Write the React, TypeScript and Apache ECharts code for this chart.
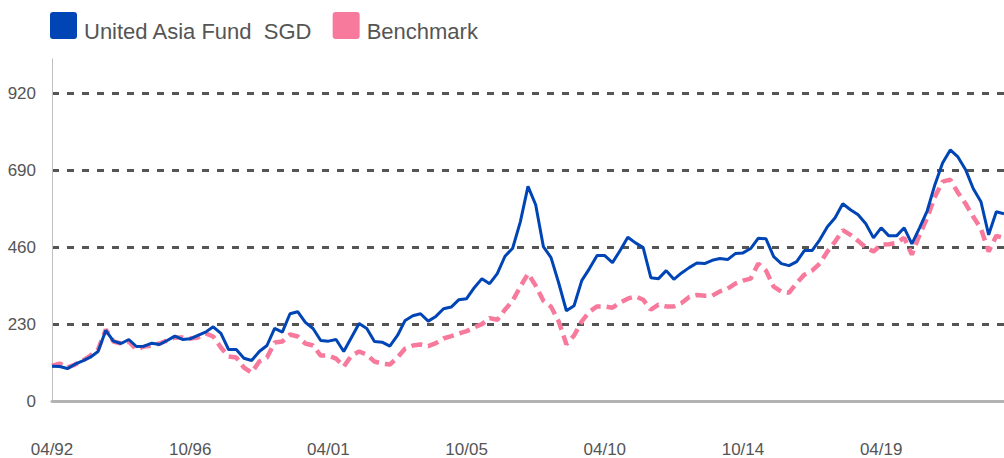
import React, { useEffect, useRef } from "react";
import * as echarts from "echarts";

// Quarterly observations, starting 04/1992
const START_YEAR = 1992;
const START_MONTH = 4;

const fundValues = [
  104, 103, 97, 110, 120, 131, 148, 211, 179, 172,
  184, 163, 164, 173, 169, 181, 194, 184, 186, 196,
  206, 222, 202, 154, 154, 128, 121, 148, 166, 217,
  206, 261, 267, 235, 217, 181, 179, 184, 148, 190,
  232, 217, 178, 176, 164, 196, 241, 255, 261, 239,
  253, 276, 281, 303, 306, 339, 366, 351, 381, 433,
  457, 536, 642, 587, 462, 429, 353, 270, 285, 360,
  396, 435, 435, 414, 450, 490, 473, 459, 369, 366,
  390, 364, 383, 399, 413, 411, 421, 426, 423, 441,
  443, 456, 487, 485, 432, 411, 405, 417, 450, 450,
  482, 521, 548, 590, 572, 557, 530, 488, 518, 494,
  494, 518, 470, 518, 569, 647, 712, 751, 730, 692,
  635, 596, 497, 566, 560,
];

const benchmarkValues = [
  106, 112, 100, 109, 121, 136, 154, 214, 178, 172,
  178, 154, 163, 166, 172, 181, 190, 190, 187, 190,
  202, 193, 160, 133, 130, 100, 85, 118, 130, 175,
  178, 199, 193, 172, 166, 136, 136, 127, 103, 136,
  148, 139, 118, 112, 109, 130, 157, 166, 169, 164,
  173, 187, 194, 202, 209, 220, 230, 248, 243, 273,
  300, 342, 381, 345, 300, 282, 238, 170, 196, 238,
  267, 283, 283, 279, 294, 306, 313, 303, 273, 288,
  283, 283, 293, 311, 317, 315, 315, 328, 336, 351,
  360, 366, 411, 390, 342, 327, 324, 353, 378, 390,
  411, 447, 477, 511, 497, 479, 459, 447, 468, 469,
  473, 488, 438, 497, 548, 611, 656, 662, 623, 590,
  551, 515, 447, 494, 488,
];

const yTicks = [0, 230, 460, 690, 920];
const Y_MAX = 1023;

const seriesNames = ["United Asia Fund  SGD", "Benchmark"];
const seriesColors = ["#0045B5", "#F77A9C"];

function buildCategories(count: number): string[] {
  const out: string[] = [];
  let y = START_YEAR;
  let m = START_MONTH;
  for (let i = 0; i < count; i++) {
    out.push(String(m).padStart(2, "0") + "/" + String(y % 100).padStart(2, "0"));
    m += 3;
    if (m > 12) {
      m -= 12;
      y += 1;
    }
  }
  return out;
}

const categories = buildCategories(fundValues.length);

const LEGEND_ICON =
  "path://M3,0H24A3,3 0 0 1 27,3V24A3,3 0 0 1 24,27H3A3,3 0 0 1 0,24V3A3,3 0 0 1 3,0Z";

export default function App() {
  const ref = useRef<HTMLDivElement>(null);

  useEffect(() => {
    if (!ref.current) return;
    const chart = echarts.init(ref.current, null, { renderer: "svg" });
    const font = "Arial, 'Liberation Sans', sans-serif";
    const gridColors = yTicks.map((t) => (t === 0 ? "rgba(0,0,0,0)" : "#555555"));
    gridColors.push("rgba(0,0,0,0)");
    chart.setOption({
      animation: false,
      backgroundColor: "#ffffff",
      textStyle: { fontFamily: font },
      legend: {
        left: 50,
        top: 12,
        padding: 0,
        itemWidth: 27,
        itemHeight: 27,
        itemGap: 20,
        icon: LEGEND_ICON,
        selectedMode: false,
        formatter: (name: string) => "{t|" + name + "}",
        textStyle: {
          fontSize: 22,
          color: "#555555",
          fontFamily: font,
          rich: {
            t: {
              fontSize: 22,
              color: "#555555",
              fontFamily: font,
              padding: [12, 0, 0, 2],
            },
          },
        },
        data: [
          { name: seriesNames[0], itemStyle: { color: seriesColors[0] } },
          { name: seriesNames[1], itemStyle: { color: seriesColors[1] } },
        ],
      },
      grid: { left: 52, right: 0, top: 59, bottom: 56.5, containLabel: false },
      xAxis: {
        type: "category",
        data: categories,
        boundaryGap: false,
        axisLine: { show: true, lineStyle: { color: "#b3b3b3", width: 3 } },
        axisTick: { show: false },
        axisLabel: {
          interval: 17,
          margin: 40,
          fontSize: 17,
          color: "#555555",
          fontFamily: font,
        },
        splitLine: { show: false },
      },
      yAxis: {
        type: "value",
        min: 0,
        max: Y_MAX,
        interval: 230,
        axisLine: { show: true, lineStyle: { color: "#c0c0c0", width: 1 } },
        axisTick: { show: false },
        axisLabel: {
          margin: 16,
          fontSize: 17,
          color: "#555555",
          fontFamily: font,
          formatter: (v: number) => (yTicks.indexOf(v) >= 0 ? String(v) : ""),
        },
        splitLine: {
          show: true,
          lineStyle: { color: gridColors, width: 3, type: [7, 8] },
        },
      },
      series: [
        {
          name: seriesNames[0],
          type: "line",
          data: fundValues,
          showSymbol: false,
          symbol: "none",
          z: 3,
          itemStyle: { color: seriesColors[0] },
          lineStyle: { color: seriesColors[0], width: 3 },
        },
        {
          name: seriesNames[1],
          type: "line",
          data: benchmarkValues,
          showSymbol: false,
          symbol: "none",
          z: 2,
          itemStyle: { color: seriesColors[1] },
          lineStyle: { color: seriesColors[1], width: 4.5, type: [11, 6] },
        },
      ],
    });
    return () => chart.dispose();
  }, []);

  return (
    <div
      ref={ref}
      style={{ position: "absolute", left: 0, top: 0, width: 1004, height: 458 }}
    />
  );
}
